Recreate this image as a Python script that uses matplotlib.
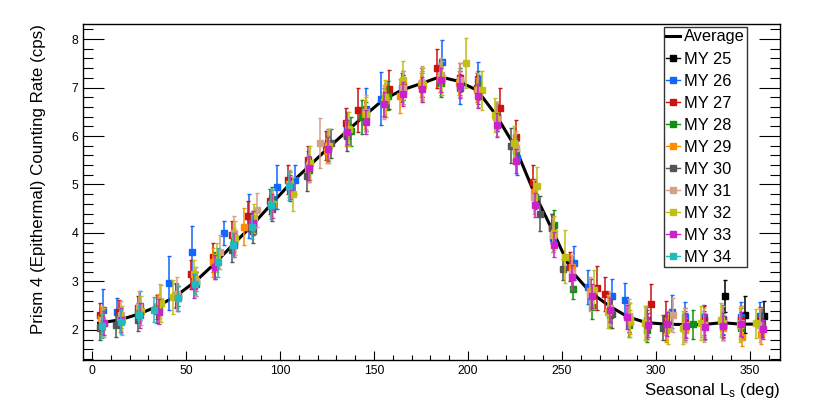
import matplotlib
matplotlib.use("Agg")
import matplotlib.pyplot as plt
from matplotlib.lines import Line2D
from matplotlib.ticker import MultipleLocator

plt.rcParams['font.family'] = ['Liberation Sans', 'DejaVu Sans']
plt.rcParams['mathtext.fontset'] = 'custom'
plt.rcParams['mathtext.rm'] = 'Liberation Sans'
plt.rcParams['mathtext.it'] = 'Liberation Sans'

# ---------------- data ----------------
avg_ls = [3.5, 15, 25, 35, 45, 55, 65, 75, 85, 95, 105, 115, 125, 135, 145, 155, 165, 175,
          185, 195, 205, 215, 225, 235, 245, 255, 265, 275, 285, 295, 305, 315, 325, 335, 345, 357]
avg_val = [2.14, 2.21, 2.33, 2.49, 2.71, 3.00, 3.36, 3.76, 4.15, 4.58, 5.00, 5.36, 5.73, 6.08, 6.42,
           6.75, 6.95, 7.08, 7.22, 7.13, 6.94, 6.43, 5.78, 4.85, 4.05, 3.22, 2.78, 2.50, 2.27, 2.15,
           2.12, 2.11, 2.11, 2.15, 2.12, 2.12]

my25_ls = [336.7, 347.6, 357.3]
my25_val = [2.71, 2.31, 2.29]
my25_err = [0.33, 0.38, 0.30]

my26_ls = [6.0, 13.5, 25.5, 41.0, 53.4, 70.0, 83.5, 98.6, 108.0, 115.0, 125.5, 135.5, 145.7, 153.5,
           165.0, 175.5, 186.0, 196.0, 205.5, 215.5, 226.0, 245.5, 256.4, 263.6, 276.6, 283.7,
           295.0, 308.3, 315.5, 325.5, 335.5, 345.5, 355.5]
my26_val = [2.42, 2.36, 2.50, 2.97, 3.60, 4.00, 4.35, 4.95, 5.10, 5.40, 5.85, 6.20, 6.55, 6.77,
            7.00, 7.10, 7.53, 7.00, 7.18, 6.40, 5.55, 3.90, 3.39, 2.88, 2.70, 2.61,
            2.20, 2.38, 2.27, 2.26, 2.22, 2.27, 2.28]
my26_err = [0.43, 0.30, 0.30, 0.55, 0.55, 0.25, 0.45, 0.45, 0.30, 0.30, 0.30, 0.30, 0.45, 0.55,
            0.30, 0.30, 0.45, 0.35, 0.35, 0.30, 0.35, 0.30, 0.35, 0.35, 0.35, 0.35,
            0.30, 0.35, 0.30, 0.25, 0.30, 0.30, 0.30]

my27_ls = [4.5, 14.5, 24.5, 34.5, 44.5, 52.5, 64.5, 74.5, 83.0, 94.5, 104.5, 115.0, 124.5, 135.0,
           141.7, 158.0, 165.5, 175.5, 183.7, 195.5, 205.0, 217.0, 225.5, 234.5, 244.5, 254.5,
           268.7, 272.8, 285.5, 297.6, 305.5, 315.5, 325.5, 335.5, 345.5, 355.5]
my27_val = [2.30, 2.36, 2.45, 2.47, 2.72, 3.15, 3.50, 3.95, 4.35, 4.65, 5.10, 5.50, 5.80, 6.27,
            6.53, 6.96, 7.05, 7.10, 7.40, 7.20, 7.00, 6.58, 5.98, 5.05, 4.10, 3.30,
            2.87, 2.74, 2.25, 2.54, 2.25, 2.15, 2.20, 2.20, 2.20, 2.18]
my27_err = [0.25, 0.25, 0.25, 0.25, 0.25, 0.30, 0.30, 0.30, 0.30, 0.25, 0.30, 0.30, 0.30, 0.30,
            0.45, 0.40, 0.30, 0.30, 0.40, 0.30, 0.30, 0.40, 0.35, 0.35, 0.30, 0.30,
            0.45, 0.35, 0.30, 0.40, 0.35, 0.30, 0.30, 0.30, 0.30, 0.30]

my28_ls = [5.5, 15.5, 24.5, 35.5, 45.5, 55.5, 65.5, 75.5, 85.5, 95.5, 105.5, 115.5, 125.5, 137.6,
           143.4, 157.5, 165.5, 175.5, 185.5, 195.5, 205.5, 215.5, 225.5, 235.5, 245.7, 256.0,
           266.0, 275.5, 285.5, 295.5, 305.5, 319.8, 325.5, 335.5, 345.5, 355.5]
my28_val = [2.12, 2.25, 2.35, 2.45, 2.70, 3.00, 3.35, 3.80, 4.20, 4.70, 5.00, 5.30, 5.75, 6.10,
            6.39, 6.83, 7.00, 7.05, 7.10, 7.10, 7.05, 6.40, 5.70, 4.75, 4.17, 2.85,
            2.48, 2.30, 2.10, 2.00, 2.05, 2.12, 2.10, 2.10, 2.05, 2.10]
my28_err = [0.20, 0.20, 0.20, 0.20, 0.20, 0.20, 0.25, 0.25, 0.25, 0.25, 0.25, 0.25, 0.25, 0.30,
            0.35, 0.30, 0.25, 0.25, 0.30, 0.25, 0.30, 0.25, 0.25, 0.25, 0.30, 0.22,
            0.25, 0.25, 0.25, 0.25, 0.25, 0.30, 0.25, 0.25, 0.25, 0.25]

my29_ls = [5.0, 15.0, 25.0, 35.0, 45.0, 55.0, 64.5, 75.5, 80.9, 95.0, 105.0, 115.0, 125.0, 135.0,
           145.0, 156.5, 163.8, 175.0, 185.0, 195.0, 205.0, 215.0, 225.0, 235.0, 245.0, 255.5,
           265.0, 275.0, 286.0, 295.0, 305.5, 315.5, 325.5, 335.5, 345.8, 356.0]
my29_val = [2.25, 2.20, 2.35, 2.50, 2.70, 3.05, 3.40, 3.85, 4.13, 4.60, 5.00, 5.35, 5.70, 6.05,
            6.45, 6.74, 6.82, 7.05, 7.20, 7.10, 6.95, 6.40, 5.80, 4.85, 3.97, 3.30,
            2.80, 2.40, 2.17, 2.10, 2.00, 2.00, 2.10, 2.05, 1.86, 1.92]
my29_err = [0.25, 0.25, 0.25, 0.25, 0.25, 0.25, 0.30, 0.25, 0.38, 0.25, 0.25, 0.25, 0.25, 0.25,
            0.30, 0.35, 0.35, 0.25, 0.30, 0.25, 0.25, 0.25, 0.25, 0.25, 0.25, 0.25,
            0.25, 0.25, 0.25, 0.25, 0.25, 0.25, 0.25, 0.25, 0.20, 0.20]

my30_ls = [4.5, 13.0, 24.5, 34.5, 44.5, 55.5, 65.5, 74.5, 85.5, 95.5, 105.5, 114.2, 127.0, 135.9,
           145.5, 155.5, 165.5, 175.5, 185.5, 195.5, 205.5, 215.5, 222.9, 238.3, 244.5, 250.7,
           265.5, 276.5, 285.5, 295.5, 303.5, 315.5, 325.5, 335.5, 345.5, 356.5]
my30_val = [2.05, 2.10, 2.20, 2.40, 2.70, 2.95, 3.30, 3.65, 4.05, 4.50, 4.90, 5.17, 5.85, 6.00,
            6.40, 6.70, 6.95, 7.05, 7.15, 7.10, 6.95, 6.40, 5.80, 4.40, 4.10, 3.25,
            2.75, 2.33, 2.25, 2.12, 2.05, 2.10, 2.10, 2.10, 2.15, 2.15]
my30_err = [0.25, 0.25, 0.22, 0.25, 0.25, 0.25, 0.25, 0.25, 0.25, 0.25, 0.25, 0.30, 0.30, 0.30,
            0.30, 0.30, 0.30, 0.30, 0.30, 0.30, 0.30, 0.30, 0.36, 0.36, 0.30, 0.22,
            0.30, 0.30, 0.30, 0.30, 0.25, 0.30, 0.30, 0.30, 0.30, 0.30]

my31_ls = [5.5, 15.5, 25.0, 36.0, 45.0, 55.5, 68.0, 75.5, 87.6, 95.5, 105.5, 115.5, 121.3, 125.5,
           145.5, 155.5, 165.5, 175.5, 185.5, 195.5, 205.5, 215.5, 225.5, 235.0, 245.0, 255.5,
           265.0, 275.5, 285.5, 294.5, 309.0, 315.5, 325.5, 335.5, 345.5, 355.5]
my31_val = [2.20, 2.30, 2.50, 2.60, 2.75, 3.00, 3.60, 4.00, 4.48, 4.60, 5.00, 5.40, 5.86, 5.80,
            6.50, 6.70, 7.00, 7.10, 7.25, 7.15, 6.95, 6.35, 5.75, 4.75, 3.95, 3.20,
            2.75, 2.45, 2.28, 2.15, 2.30, 2.10, 2.10, 2.15, 2.15, 2.10]
my31_err = [0.30, 0.30, 0.30, 0.35, 0.35, 0.30, 0.35, 0.35, 0.35, 0.30, 0.30, 0.35, 0.52, 0.35,
            0.35, 0.35, 0.35, 0.35, 0.35, 0.35, 0.35, 0.35, 0.35, 0.35, 0.35, 0.35,
            0.35, 0.35, 0.35, 0.35, 0.35, 0.35, 0.35, 0.35, 0.35, 0.35]

my32_ls = [6.5, 16.0, 26.0, 36.5, 43.0, 54.5, 66.5, 76.0, 86.0, 96.5, 107.0, 116.0, 126.0, 136.5,
           146.0, 156.0, 165.6, 176.0, 186.0, 198.9, 207.6, 214.5, 224.5, 236.5, 246.0, 251.6,
           267.0, 274.5, 286.0, 294.0, 306.5, 314.5, 324.0, 334.5, 344.5, 353.4]
my32_val = [2.15, 2.20, 2.40, 2.55, 2.68, 3.15, 3.50, 3.90, 4.30, 4.60, 4.81, 5.45, 5.80, 6.15,
            6.45, 6.80, 7.15, 7.05, 7.20, 7.50, 6.94, 6.44, 5.85, 4.96, 4.00, 3.51,
            2.83, 2.38, 2.20, 2.15, 2.05, 2.05, 2.15, 2.20, 2.10, 2.14]
my32_err = [0.30, 0.30, 0.30, 0.38, 0.35, 0.30, 0.30, 0.35, 0.30, 0.30, 0.35, 0.35, 0.35, 0.35,
            0.35, 0.35, 0.40, 0.35, 0.35, 0.52, 0.40, 0.35, 0.35, 0.40, 0.35, 0.55,
            0.40, 0.35, 0.35, 0.35, 0.35, 0.35, 0.35, 0.35, 0.35, 0.30]

my33_ls = [6.5, 15.5, 25.5, 35.5, 45.5, 54.5, 65.5, 75.5, 85.5, 95.5, 105.5, 115.6, 125.5, 135.4,
           145.5, 155.5, 165.6, 175.5, 185.4, 195.7, 205.6, 215.5, 225.5, 235.6, 245.7, 255.5,
           266.0, 275.8, 284.6, 296.0, 306.0, 315.8, 325.9, 335.5, 345.5, 357.0]
my33_val = [2.15, 2.20, 2.30, 2.38, 2.65, 2.90, 3.30, 3.75, 4.20, 4.55, 4.95, 5.34, 5.73, 6.08,
            6.29, 6.66, 6.87, 6.96, 7.15, 7.03, 6.82, 6.23, 5.48, 4.57, 3.76, 3.09,
            2.70, 2.41, 2.26, 2.10, 2.12, 2.09, 2.07, 2.09, 2.13, 2.01]
my33_err = [0.25, 0.25, 0.25, 0.25, 0.25, 0.25, 0.25, 0.25, 0.25, 0.25, 0.25, 0.25, 0.25, 0.25,
            0.25, 0.25, 0.25, 0.25, 0.25, 0.25, 0.25, 0.25, 0.25, 0.25, 0.25, 0.25,
            0.25, 0.25, 0.25, 0.25, 0.25, 0.25, 0.25, 0.25, 0.25, 0.20]

my34_ls = [5.5, 15.5, 25.0, 33.0, 46.0, 55.0, 67.0, 75.0, 85.0, 95.2, 104.8]
my34_val = [2.08, 2.17, 2.30, 2.42, 2.65, 2.95, 3.40, 3.75, 4.13, 4.58, 4.97]
my34_err = [0.25, 0.25, 0.20, 0.25, 0.25, 0.20, 0.30, 0.25, 0.25, 0.30, 0.30]

labels = ['MY 25', 'MY 26', 'MY 27', 'MY 28', 'MY 29', 'MY 30', 'MY 31', 'MY 32', 'MY 33', 'MY 34']
colors = ['#000000', '#1166ff', '#cc1111', '#119111', '#ff8c00', '#555555', '#d4a088',
          '#bfbf15', '#cc22cc', '#22bbbb']

series = [(my25_ls, my25_val, my25_err), (my26_ls, my26_val, my26_err),
          (my27_ls, my27_val, my27_err), (my28_ls, my28_val, my28_err),
          (my29_ls, my29_val, my29_err), (my30_ls, my30_val, my30_err),
          (my31_ls, my31_val, my31_err), (my32_ls, my32_val, my32_err),
          (my33_ls, my33_val, my33_err), (my34_ls, my34_val, my34_err)]

# ---------------- figure ----------------
W, H = 830, 401
fig = plt.figure(figsize=(W / 100, H / 100), dpi=100)
ax = fig.add_axes([83 / W, 1 - 360 / H, (780 - 83) / W, (360 - 24) / H])

ax.plot(avg_ls, avg_val, color='black', lw=2.2, zorder=2)
for i, ((xs, ys, es), c) in enumerate(zip(series, colors)):
    ax.errorbar(xs, ys, yerr=es, fmt='s', color=c, ecolor=c, markersize=4.8,
                elinewidth=1.1, capsize=1.2, capthick=1.0, zorder=3 + i)

ax.set_xlim(-4.8, 366)
ax.set_ylim(1.38, 8.31)

ax.xaxis.set_major_locator(MultipleLocator(50))
ax.xaxis.set_minor_locator(MultipleLocator(10))
ax.yaxis.set_major_locator(MultipleLocator(1))
ax.yaxis.set_minor_locator(MultipleLocator(0.2))

ax.tick_params(axis='x', which='major', direction='in', length=6.5, width=0.8,
               top=False, labelsize=8.8, pad=3.5)
ax.tick_params(axis='x', which='minor', direction='in', length=3.3, width=0.8, top=False)
ax.tick_params(axis='y', which='major', direction='in', length=15, width=0.8,
               right=True, labelsize=8.8, pad=3.5)
ax.tick_params(axis='y', which='minor', direction='in', length=7.5, width=0.8, right=True)
for s in ax.spines.values():
    s.set_linewidth(1.0)

ax.set_ylabel('Prism 4 (Epithermal) Counting Rate (cps)', fontsize=12.2, loc='top')
ax.yaxis.set_label_coords(-0.053, 1.0)
fig.text(780 / W, 1 - 395 / H, r'Seasonal L$_{\mathrm{s}}$ (deg)', fontsize=12.2,
         ha='right', va='baseline')

handles = [Line2D([], [], color='black', lw=2.2)]
for c in colors:
    handles.append(Line2D([], [], color=c, lw=1.0, marker='s', markersize=4))
leg = ax.legend(handles, ['Average'] + labels, loc='upper right',
                bbox_to_anchor=(747 / W, 1 - 27 / H), bbox_transform=fig.transFigure,
                fontsize=11.8, frameon=True, fancybox=False, shadow=False,
                handlelength=0.85, handletextpad=0.22, labelspacing=0.43,
                borderpad=0.15, borderaxespad=0.0)
leg.get_frame().set_edgecolor('black')
leg.get_frame().set_linewidth(1.0)
leg.set_zorder(20)

fig.savefig('out.png', dpi=100)
